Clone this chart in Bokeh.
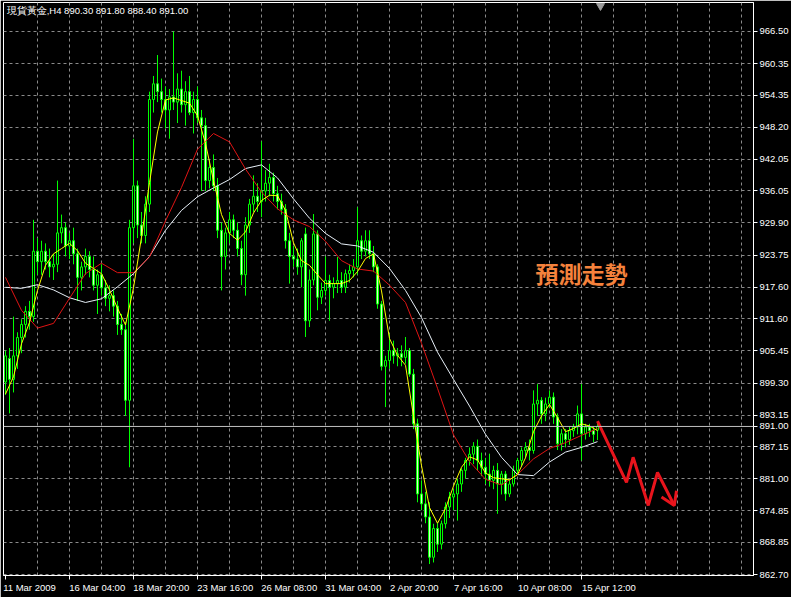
import numpy as np
from bokeh.plotting import figure
from bokeh.models import FixedTicker, NumeralTickFormatter, Span, Range1d
from bokeh.core.properties import value
from bokeh.embed import file_html
from bokeh.resources import INLINE

# --- H4 candles, spot gold (bar index 0 = 11 Mar 2009) ---
opens = [899.5, 904.0, 900.0, 904.5, 908.0, 910.5, 913.0, 912.0, 924.5, 922.5,
         924.5, 922.5, 921.5, 922.0, 928.0, 929.0, 925.5, 926.5, 924.0, 919.5,
         921.5, 923.5, 921.0, 918.0, 920.0, 917.5, 915.5, 916.0, 914.0, 910.5,
         909.5, 896.0, 929.0, 937.0, 929.5, 927.5, 933.5, 953.5, 956.5, 955.0,
         953.5, 951.5, 954.0, 953.0, 955.5, 952.5, 955.0, 951.0, 953.5, 950.0,
         948.5, 938.0, 940.5, 937.0, 928.5, 923.5, 928.0, 930.5, 928.5, 925.0,
         920.0, 929.5, 933.5, 935.0, 934.0, 936.0, 937.5, 938.6, 935.5, 934.0,
         932.5, 926.5, 923.5, 923.0, 921.5, 927.8, 911.2, 919.0, 927.8, 915.7,
         917.0, 918.9, 917.6, 918.3, 918.9, 917.6, 920.2, 920.8, 921.5, 926.5,
         924.5, 926.5, 924.0, 921.5, 914.4, 902.5, 903.6, 905.5, 904.5, 904.9,
         904.2, 905.5, 901.0, 891.5, 878.1, 876.2, 873.7, 866.0, 871.5, 868.5,
         872.4, 875.6, 877.5, 878.1, 880.0, 882.6, 884.5, 885.7, 887.2, 884.5,
         883.2, 881.9, 880.7, 882.6, 880.0, 881.9, 878.1, 880.0, 882.6, 884.5,
         886.4, 887.0, 886.4, 895.3, 896.0, 893.4, 895.3, 896.6, 892.8, 887.7,
         889.6, 888.5, 890.2, 890.9, 893.4, 889.6, 890.9, 890.2, 890.3]

highs = [905.5, 906.0, 912.0, 909.0, 911.5, 914.0, 915.0, 930.5, 927.0, 926.5,
         926.0, 925.0, 924.0, 938.0, 931.5, 930.0, 928.0, 929.0, 925.0, 922.5,
         925.0, 924.5, 923.5, 921.0, 922.0, 919.0, 918.0, 917.0, 915.0, 912.5,
         911.0, 930.5, 946.0, 938.0, 932.0, 935.0, 955.0, 958.0, 962.0, 957.5,
         956.0, 955.5, 966.5, 958.5, 959.0, 957.0, 958.0, 955.0, 956.0, 951.5,
         950.0, 942.0, 943.0, 938.5, 930.0, 929.0, 932.0, 931.5, 930.0, 926.5,
         931.0, 934.5, 939.0, 937.5, 945.5, 940.0, 941.2, 939.5, 937.0, 935.5,
         933.5, 928.0, 925.5, 925.0, 927.0, 929.0, 921.0, 931.6, 928.5, 918.5,
         923.5, 920.0, 919.5, 923.4, 920.5, 921.0, 922.0, 923.0, 932.9, 927.5,
         928.5, 928.5, 925.5, 922.0, 915.0, 904.5, 908.7, 907.4, 906.0, 906.5,
         908.1, 906.0, 902.0, 892.5, 880.7, 878.5, 876.5, 872.4, 872.5, 873.0,
         876.5, 878.5, 879.0, 881.0, 883.0, 885.0, 887.0, 888.0, 888.5, 886.0,
         885.0, 885.8, 883.5, 884.0, 882.5, 882.5, 881.0, 883.5, 885.0, 887.0,
         888.0, 888.5, 897.9, 899.1, 896.6, 896.5, 897.9, 897.5, 893.5, 890.5,
         890.5, 891.0, 891.5, 895.0, 899.1, 891.5, 891.5, 891.0, 891.8]

lows = [897.0, 893.5, 897.5, 902.0, 905.0, 908.0, 909.5, 911.0, 920.0, 920.0,
        921.0, 919.5, 919.0, 920.5, 926.0, 923.5, 923.0, 922.0, 915.0, 917.0,
        920.0, 919.5, 917.0, 912.5, 916.0, 914.0, 913.0, 912.0, 908.5, 908.5,
        893.0, 883.2, 926.0, 927.0, 926.0, 926.0, 932.0, 951.0, 953.0, 951.0,
        948.0, 946.0, 951.5, 949.0, 951.0, 948.5, 950.5, 947.0, 949.0, 936.0,
        936.0, 936.5, 936.0, 927.0, 917.0, 921.0, 926.0, 927.0, 923.5, 918.0,
        916.0, 928.0, 932.0, 932.0, 931.0, 934.0, 935.0, 934.0, 932.5, 931.5,
        925.0, 918.3, 921.5, 920.0, 917.6, 908.1, 910.0, 918.0, 913.2, 914.4,
        916.0, 911.2, 915.5, 916.5, 916.5, 916.5, 918.5, 919.5, 920.0, 923.0,
        923.5, 923.0, 920.5, 913.5, 901.7, 894.7, 902.0, 903.0, 902.5, 902.5,
        903.0, 900.5, 890.5, 876.5, 875.0, 872.5, 864.7, 865.0, 867.0, 867.5,
        871.5, 873.5, 875.0, 873.0, 878.5, 881.0, 883.5, 883.8, 882.5, 881.5,
        880.0, 879.5, 879.0, 874.3, 878.0, 876.8, 877.5, 879.5, 882.0, 883.5,
        885.0, 884.5, 885.8, 893.0, 891.5, 892.0, 894.5, 891.5, 886.5, 886.4,
        887.0, 887.5, 889.0, 889.5, 884.5, 888.5, 889.0, 888.0, 888.4]

closes = [904.5, 900.0, 904.5, 908.0, 910.5, 913.0, 912.0, 924.5, 922.5, 924.5,
          922.5, 921.5, 922.0, 928.0, 929.0, 925.5, 926.5, 924.0, 919.5, 921.5,
          923.5, 921.0, 918.0, 920.0, 917.5, 915.5, 916.0, 914.0, 910.5, 909.5,
          896.0, 929.0, 937.0, 929.5, 927.5, 933.5, 953.5, 956.5, 955.0, 953.5,
          951.5, 954.0, 953.0, 955.5, 952.5, 955.0, 951.0, 953.5, 950.0, 948.5,
          938.0, 940.5, 937.0, 928.5, 923.5, 928.0, 930.5, 928.5, 925.0, 920.0,
          929.5, 933.5, 935.0, 934.0, 936.0, 937.5, 938.6, 935.5, 934.0, 932.5,
          926.5, 923.5, 923.0, 921.5, 926.5, 911.2, 919.0, 927.8, 915.7, 917.0,
          918.9, 917.6, 918.3, 918.9, 917.6, 920.2, 920.8, 921.5, 926.5, 924.5,
          926.5, 924.0, 921.5, 914.4, 902.5, 903.6, 905.5, 904.5, 904.9, 904.2,
          905.5, 901.0, 891.5, 878.1, 876.2, 873.7, 866.0, 871.5, 868.5, 872.4,
          875.6, 877.5, 878.1, 880.0, 882.6, 884.5, 885.7, 887.2, 884.5, 883.2,
          881.9, 880.7, 882.6, 880.0, 881.9, 878.1, 880.0, 882.6, 884.5, 886.4,
          887.0, 886.4, 895.3, 896.0, 893.4, 895.3, 896.6, 892.8, 887.7, 889.6,
          888.5, 890.2, 890.9, 893.4, 889.6, 890.9, 890.2, 889.5, 891.0]

# --- moving averages (fast / medium / slow) ---
fast_ma_bars = list(range(0, 149, 2))
fast_ma = [897.2, 900.5, 906.8, 910.9, 917.0, 921.8, 924.0, 925.0, 926.0, 924.6,
           922.2, 921.2, 920.2, 917.1, 913.6, 910.4, 917.5, 927.2, 937.6, 947.3,
           953.4, 953.8, 953.3, 952.8, 950.4, 945.1, 938.0, 931.5, 927.9, 926.6,
           928.2, 931.8, 934.2, 935.2, 935.1, 932.3, 926.1, 922.7, 921.8, 920.0,
           918.3, 918.3, 918.3, 918.9, 920.6, 923.1, 924.0, 916.9, 907.8, 904.6,
           902.7, 893.0, 883.5, 875.5, 872.5, 875.3, 879.6, 883.2, 885.2, 884.6,
           882.1, 881.2, 881.0, 880.8, 881.8, 885.0, 890.0, 893.0, 895.2, 892.7,
           890.0, 890.6, 891.5, 891.1, 890.2]

slow_ma_bars = list(range(0, 149, 4))
mid_ma = [919.5, 913.2, 909.8, 910.7, 915.5, 920.2, 922.2, 920.4, 920.4, 923.4,
          930.3, 936.7, 944.0, 947.0, 945.4, 940.2, 935.8, 932.6, 930.5, 929.2,
          926.4, 922.7, 921.1, 920.7, 918.0, 914.7, 906.9, 898.3, 889.4, 884.3,
          880.9, 879.8, 881.8, 884.8, 886.8, 887.9, 889.3, 890.6]
slow_ma = [917.6, 917.4, 918.1, 917.1, 915.6, 914.7, 915.4, 917.7, 920.2, 923.5,
           928.5, 932.3, 934.9, 936.6, 938.2, 940.3, 941.0, 938.5, 934.5, 930.8,
           927.9, 925.9, 925.5, 924.3, 921.2, 917.0, 911.8, 905.2, 900.0, 894.9,
           889.5, 885.1, 881.8, 881.6, 884.2, 886.1, 887.0, 888.1]

# --- hand-drawn forecast path (bar, price) ---
forecast_bars = [148.0, 155.25, 156.9, 160.7, 163.0, 167.2]
forecast_prices = [892.0, 880.3, 885.1, 875.9, 882.2, 875.9]
arrow_wing_bars = [164.0, 167.2, 167.75]
arrow_wing_prices = [877.5, 875.9, 878.7]

# --- axes ---
price_ticks = [966.50, 960.35, 954.35, 948.20, 942.05, 936.05, 929.90, 923.75, 917.60,
               911.60, 905.45, 899.30, 893.15, 887.15, 881.00, 874.85, 868.85, 862.70]
time_label_bars = [0, 16, 32, 48, 64, 80, 96, 112, 128, 144]
time_labels = ["11 Mar 2009", "16 Mar 04:00", "18 Mar 20:00", "23 Mar 16:00",
               "26 Mar 08:00", "31 Mar 04:00", "2 Apr 20:00", "7 Apr 16:00",
               "10 Apr 08:00", "15 Apr 12:00"]
bid_price = 891.00
header = "現貨黃金,H4  890.30 891.80 888.40 891.00"

AXIS_FONT = "Liberation Sans"
FONT_SIZE = "9.5px"

# Time labels start at their tick (terminal style) rather than being centred on it:
# prefix each with no-break spaces as wide as the label itself.  The first label
# is pushed inside the canvas by Bokeh anyway, so it only needs a small indent.
_EM = {" ": 0.278, ":": 0.278, "M": 0.833, "A": 0.667, "a": 0.556, "r": 0.333, "p": 0.556}
def _left_aligned(s, first=False):
    width = sum(_EM.get(ch, 0.556) for ch in s)
    n = 1 if first else int(round(width / 0.278))
    return "\u00a0" * n + s

p = figure(width=791, height=597, output_backend="svg", toolbar_location=None,
           x_range=Range1d(-0.5, 187.0), y_range=Range1d(862.51, 972.04),
           y_axis_location="right",
           background_fill_color="black", border_fill_color="black",
           outline_line_color="white", outline_line_width=1,
           min_border_left=3, min_border_top=2, min_border_right=38, min_border_bottom=22)

# price scale also carries the current bid price
p.yaxis.ticker = FixedTicker(ticks=sorted(price_ticks + [bid_price]))
p.yaxis.formatter = NumeralTickFormatter(format="0.00")
p.ygrid.ticker = FixedTicker(ticks=price_ticks)
p.xaxis.ticker = FixedTicker(ticks=time_label_bars)
p.xaxis.major_label_overrides = {b: _left_aligned(s, i == 0)
                                 for i, (b, s) in enumerate(zip(time_label_bars, time_labels))}

for ax in (p.xaxis, p.yaxis):
    ax.axis_line_color = "white"
    ax.major_tick_line_color = "white"
    ax.major_tick_out = 4
    ax.major_tick_in = 0
    ax.minor_tick_line_color = None
    ax.major_label_text_color = "white"
    ax.major_label_text_font = AXIS_FONT
    ax.major_label_text_font_size = FONT_SIZE
    ax.major_label_standoff = 2

p.xgrid.ticker = FixedTicker(ticks=list(range(8, 187, 8)))
p.grid.grid_line_color = "#8a8a8a"
p.grid.grid_line_dash = "3 3"
p.grid.grid_line_width = 1

# bid line
p.add_layout(Span(location=bid_price, dimension="width", line_color="#c0c0c0", line_width=1))

# candles
o = np.array(opens)
c = np.array(closes)
idx = np.arange(len(c))
body_fill = ["black" if cc >= oo else "#d8ffc8" for oo, cc in zip(o, c)]
p.segment(idx, lows, idx, highs, color="#00ff00", line_width=1)
p.vbar(x=idx, top=np.maximum(o, c), bottom=np.minimum(o, c), width=0.5,
       fill_color=body_fill, line_color="#00ff00", line_width=1)

# moving averages
p.line(slow_ma_bars, slow_ma, line_color="#e8f0f8", line_width=1)
p.line(slow_ma_bars, mid_ma, line_color="#e01414", line_width=1)
p.line(fast_ma_bars, fast_ma, line_color="#ffff00", line_width=1)

# forecast zig-zag with open arrow head
p.line(forecast_bars, forecast_prices, line_color="#e8141c", line_width=3)
p.line(arrow_wing_bars, arrow_wing_prices, line_color="#e8141c", line_width=3)

p.text(x=[144.0], y=[920.4], text=["預測走勢"], text_color="#f5823c",
       text_font=value("Noto Sans CJK TC"), text_font_style="bold",
       text_font_size="23px", text_align="center", text_baseline="middle")

# header and chart-shift marker
p.text(x=[0.3], y=[970.5], text=[header], text_color="white",
       text_font=value(AXIS_FONT), text_font_size=FONT_SIZE,
       text_align="left", text_baseline="middle")
p.scatter([148.75], [971.4], marker="inverted_triangle", size=8, color="#9a9a9a")

open("out.html", "w").write(file_html(p, INLINE))
